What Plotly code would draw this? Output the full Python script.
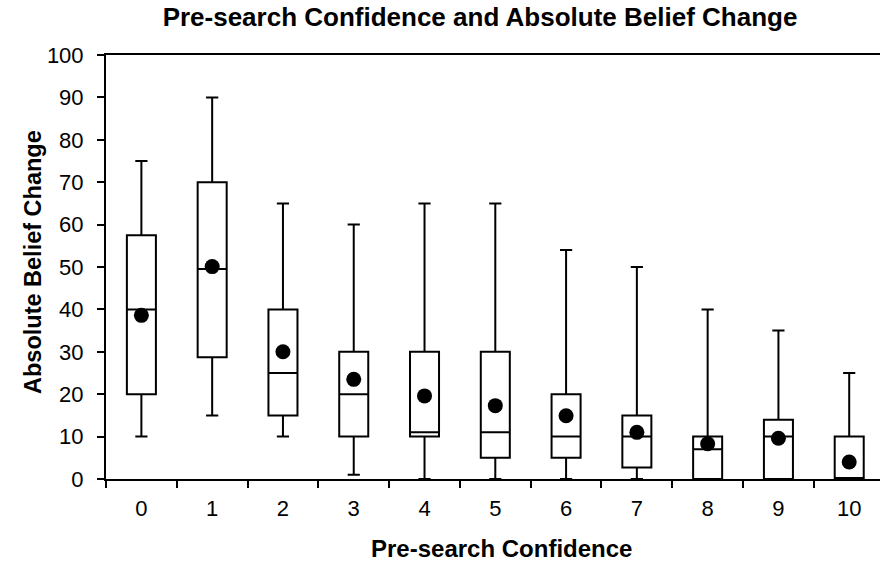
import plotly.graph_objects as go

categories = ["0", "1", "2", "3", "4", "5", "6", "7", "8", "9", "10"]
upper_whisker = [75, 90, 65, 60, 65, 65, 54, 50, 40, 35, 25]
q3 = [57.5, 70, 40, 30, 30, 30, 20, 15, 10, 14, 10]
median = [40, 49.5, 25, 20, 11, 11, 10, 10, 7, 10, 0]
q1 = [20, 28.7, 15, 10, 10, 5, 5, 2.7, 0, 0, 0]
lower_whisker = [10, 15, 10, 1, 0, 0, 0, 0, 0, 0, 0]
means = [38.6, 50.1, 30, 23.5, 19.6, 17.3, 14.9, 11, 8.3, 9.6, 4]
y_ticks = [0, 10, 20, 30, 40, 50, 60, 70, 80, 90, 100]

FONT = "Liberation Sans, Arial, sans-serif"
W, H = 880, 562
L, R, T = 106, 0, 55
PLOT_BOTTOM = 479
B = H - PLOT_BOTTOM
PW, PH = W - L - R, H - T - B


def px_x(x):
    return (x - L) / PW


def px_y(y):
    return (PLOT_BOTTOM - y) / PH


fig = go.Figure()
fig.add_trace(go.Box(
    x=categories,
    q1=q1, median=median, q3=q3,
    lowerfence=lower_whisker, upperfence=upper_whisker,
    width=0.41, whiskerwidth=0.42,
    fillcolor="white",
    line=dict(color="black", width=2),
    boxpoints=False,
    showlegend=False,
    hoverinfo="skip",
))
fig.add_trace(go.Scatter(
    x=categories, y=means, mode="markers",
    marker=dict(color="black", size=15, line=dict(width=0)),
    showlegend=False, hoverinfo="skip",
))

fig.update_layout(
    width=W, height=H,
    margin=dict(l=L, r=R, t=T, b=B, autoexpand=False),
    paper_bgcolor="white", plot_bgcolor="white",
    font=dict(family=FONT, color="black"),
    title=dict(
        text="<b>Pre-search Confidence and Absolute Belief Change</b>",
        x=480 / W, xanchor="center", xref="container",
        y=1 - 17 / H, yanchor="middle", yref="container",
        font=dict(size=26, family=FONT, color="black"),
    ),
    xaxis=dict(
        type="category",
        range=[-0.5, 10.435],
        tickson="boundaries",
        ticks="outside", ticklen=7, tickwidth=2, tickcolor="black",
        showline=True, linecolor="black", linewidth=2, mirror=True,
        showgrid=False, zeroline=False, automargin=False,
        tickfont=dict(size=22, family=FONT),
        ticklabelstandoff=9,
    ),
    yaxis=dict(
        range=[0, 100],
        tickmode="array", tickvals=y_ticks,
        ticks="outside", ticklen=7, tickwidth=2, tickcolor="black",
        showline=True, linecolor="black", linewidth=2,
        showgrid=False, zeroline=False, automargin=False,
        tickfont=dict(size=22, family=FONT),
        ticklabelstandoff=9,
    ),
    annotations=[
        dict(text="<b>Pre-search Confidence</b>", xref="paper", yref="paper",
             x=px_x(501), y=px_y(548), xanchor="center", yanchor="middle",
             showarrow=False, font=dict(size=24, family=FONT, color="black")),
        dict(text="<b>Absolute Belief Change</b>", xref="paper", yref="paper",
             x=px_x(33), y=px_y(262), xanchor="center", yanchor="middle",
             textangle=-90, showarrow=False, font=dict(size=23.5, family=FONT, color="black")),
    ],
)

# remove the default 8px page margin so the figure fills the window exactly
fig.write_html(
    "out.html",
    config={"displayModeBar": False},
    post_script="document.body.style.margin='0px';",
)
